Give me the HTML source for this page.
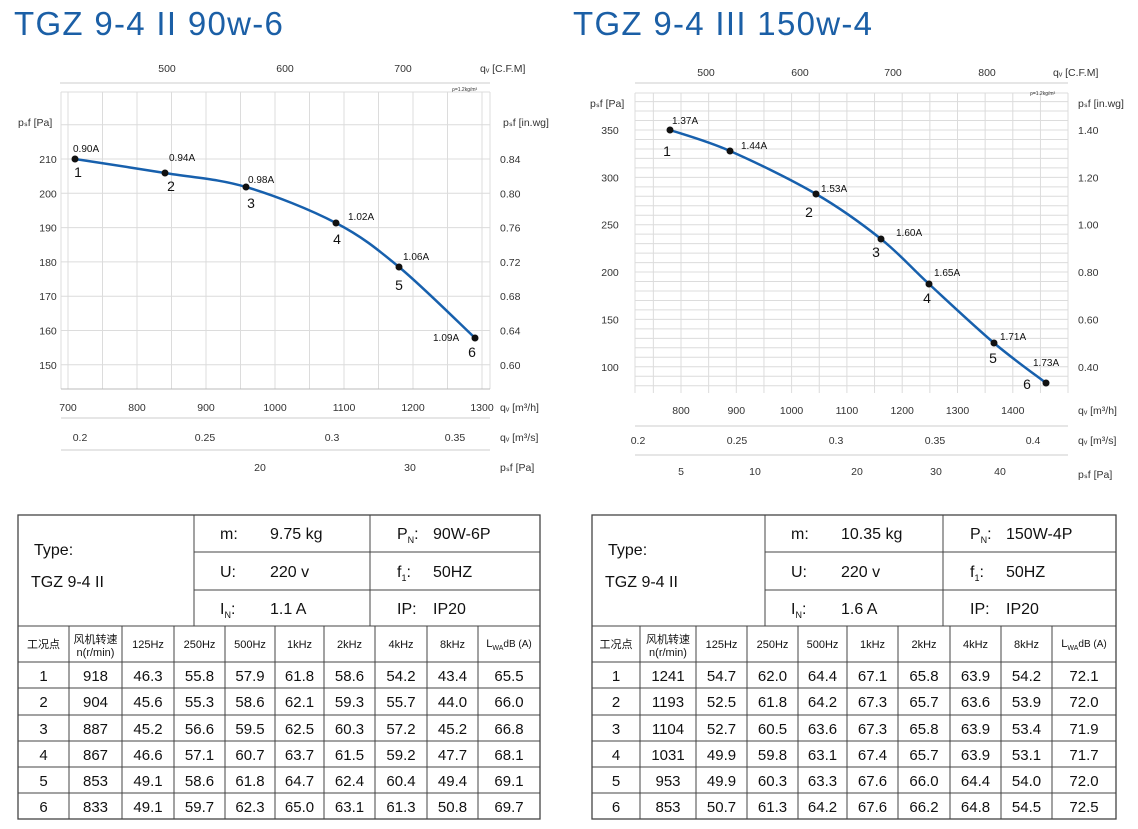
<!DOCTYPE html>
<html><head><meta charset="utf-8"><style>
body{margin:0;background:#fff;width:1138px;height:829px;overflow:hidden}
svg{display:block;font-family:"Liberation Sans","Noto Sans CJK SC",sans-serif}
.t{font-size:10.5px;fill:#333}
.n{font-size:14px;fill:#111}
.a{font-size:10px;fill:#111}
.tb{font-size:16px;fill:#111}
.tc{font-size:15px;fill:#111}
.ts{font-size:11px;fill:#111}
</style></head><body>
<svg id="s" width="1138" height="829" xmlns="http://www.w3.org/2000/svg">
<text x="14" y="35" font-size="33" letter-spacing="1.3" fill="#1b5fa6">TGZ 9-4 II 90w-6</text>
<text x="573" y="35" font-size="33" letter-spacing="1.3" fill="#1b5fa6">TGZ 9-4 III 150w-4</text>
<g id="L"></g><g id="R"></g><g id="T1"></g><g id="T2"></g>
</svg>
<script>
const NS="http://www.w3.org/2000/svg";
function el(p,t,a,txt){const e=document.createElementNS(NS,t);for(const k in a)e.setAttribute(k,a[k]);if(txt!=null)e.textContent=txt;p.appendChild(e);return e;}
function line(p,x1,y1,x2,y2,c,w){return el(p,'line',{x1,y1,x2,y2,stroke:c||'#dcdcdc','stroke-width':w||1});}
function txt(p,x,y,s,cls,anchor){return el(p,'text',{x,y,class:cls||'t','text-anchor':anchor||'middle'},s);}
function curve(p,pts){let d='M'+pts[0][0]+','+pts[0][1];for(let i=0;i<pts.length-1;i++){const p0=pts[i-1]||pts[i],p1=pts[i],p2=pts[i+1],p3=pts[i+2]||p2;
d+=' C'+(p1[0]+(p2[0]-p0[0])/6)+','+(p1[1]+(p2[1]-p0[1])/6)+' '+(p2[0]-(p3[0]-p1[0])/6)+','+(p2[1]-(p3[1]-p1[1])/6)+' '+p2[0]+','+p2[1];}
el(p,'path',{d,fill:'none',stroke:'#1760ad','stroke-width':2.5});
pts.forEach(q=>el(p,'circle',{cx:q[0],cy:q[1],r:3.5,fill:'#111'}));}
// LEFT chart
(function(){const g=document.getElementById('L');
const X=v=>68+0.69*(v-700), Y=v=>159+(210-v)*3.43;
for(let v=650;v<=1300;v+=50){const x=X(v);if(x>61&&x<490)line(g,x,92,x,389);}
for(let v=220;v>=150;v-=10)line(g,61,Y(v),490,Y(v));
line(g,61,92,490,92);line(g,61,92,61,389);line(g,490,92,490,389);
line(g,61,389,490,389,'#bbb');line(g,61,418,490,418,'#ccc');line(g,61,450,490,450,'#ccc');line(g,60,83,490,83,'#ccc');
for(let v=700;v<=1300;v+=100)txt(g,X(v),411,v);
[[167,'500'],[285,'600'],[403,'700']].forEach(a=>txt(g,a[0],72,a[1]));
txt(g,480,72,'qᵥ [C.F.M]','t','start');
el(g,'text',{x:452,y:91,'font-size':5,fill:'#333'},'ρ=1.2kg/m³');
[[80,'0.2'],[205,'0.25'],[332,'0.3'],[455,'0.35']].forEach(a=>txt(g,a[0],441,a[1]));
[[260,'20'],[410,'30']].forEach(a=>txt(g,a[0],471,a[1]));
txt(g,500,411,'qᵥ [m³/h]','t','start');txt(g,500,441,'qᵥ [m³/s]','t','start');txt(g,500,471,'pₛf [Pa]','t','start');
txt(g,18,126,'pₛf [Pa]','t','start');txt(g,503,126,'pₛf [in.wg]','t','start');
for(let v=210;v>=150;v-=10)txt(g,48,Y(v)+4,v);
['0.84','0.80','0.76','0.72','0.68','0.64','0.60'].forEach((s,i)=>txt(g,500,159+i*34.3+4,s,'t','start'));
const P=[[75,159],[165,173],[246,187],[336,223],[399,267],[475,338]];curve(g,P);
const A=['0.90A','0.94A','0.98A','1.02A','1.06A','1.09A'];
const la=[[73,152],[169,161],[248,183],[348,220],[403,260],[433,341]];
const ln=[[78,177],[171,191],[251,208],[337,244],[399,290],[472,357]];
P.forEach((p,i)=>{txt(g,la[i][0],la[i][1],A[i],'a','start');txt(g,ln[i][0],ln[i][1],i+1,'n');});
})();
// RIGHT chart
(function(){const g=document.getElementById('R');
const X=v=>681+0.553*(v-800), Y=v=>130+(350-v)*0.947;
for(let v=750;v<=1500;v+=50){const x=X(v);if(x>635&&x<1068)line(g,x,93,x,393);}
for(let v=380;v>=80;v-=10)line(g,635,Y(v),1068,Y(v));
line(g,635,93,1068,93);line(g,635,93,635,393);line(g,1068,93,1068,393);
line(g,635,426,1068,426,'#ccc');line(g,635,455,1068,455,'#ccc');line(g,635,83,1068,83,'#ccc');
for(let v=800;v<=1400;v+=100)txt(g,X(v),414,v);
[[706,'500'],[800,'600'],[893,'700'],[987,'800']].forEach(a=>txt(g,a[0],76,a[1]));
txt(g,1053,76,'qᵥ [C.F.M]','t','start');
el(g,'text',{x:1030,y:95,'font-size':5,fill:'#333'},'ρ=1.2kg/m³');
[[638,'0.2'],[737,'0.25'],[836,'0.3'],[935,'0.35'],[1033,'0.4']].forEach(a=>txt(g,a[0],444,a[1]));
[[681,'5'],[755,'10'],[857,'20'],[936,'30'],[1000,'40']].forEach(a=>txt(g,a[0],475,a[1]));
txt(g,1078,414,'qᵥ [m³/h]','t','start');txt(g,1078,444,'qᵥ [m³/s]','t','start');txt(g,1078,478,'pₛf [Pa]','t','start');
txt(g,590,107,'pₛf [Pa]','t','start');txt(g,1078,107,'pₛf [in.wg]','t','start');
for(let v=350;v>=100;v-=50)txt(g,610,Y(v)+4,v);
['1.40','1.20','1.00','0.80','0.60','0.40'].forEach((s,i)=>txt(g,1078,130+i*47.35+4,s,'t','start'));
const P=[[670,130],[730,151],[816,194],[881,239],[929,284],[994,343],[1046,383]];curve(g,P);
const A=['1.37A','1.44A','1.53A','1.60A','1.65A','1.71A','1.73A'];
const la=[[672,124],[741,149],[821,192],[896,236],[934,276],[1000,340],[1033,366]];
P.forEach((p,i)=>txt(g,la[i][0],la[i][1],A[i],'a','start'));
[[667,156],[809,217],[876,257],[927,303],[993,363],[1027,389]].forEach((q,i)=>txt(g,q[0],q[1],i+1,'n'));
})();
// tables
function table(id,cols,d1,d2,top,rowsData){const g=document.getElementById(id);
const L=cols[0],R=cols[cols.length-1];const ys=[515,552,590,626,662,688,715,741,767,793,819];
const k='#444';
el(g,'rect',{x:L,y:515,width:R-L,height:304,fill:'none',stroke:k,'stroke-width':1.3});
line(g,d1,515,d1,626,k,1);line(g,d2,515,d2,626,k,1);
line(g,d1,552,R,552,k,1);line(g,d1,590,R,590,k,1);
for(let i=3;i<ys.length-1;i++)line(g,L,ys[i],R,ys[i],k,1);
for(let i=1;i<cols.length-1;i++)line(g,cols[i],626,cols[i],819,k,1);
txt(g,L+16,555,'Type:','tb','start');txt(g,L+13,587,top.type,'tb','start');
[['m:',top.m],['U:',top.u],['I',top.i]].forEach((r,j)=>{const y=[539,577,614][j];
const t=el(g,'text',{x:d1+26,y,class:'tb'},r[0]);if(j==2){el(t,'tspan',{'font-size':'9','dy':'4'},'N');el(t,'tspan',{'dy':'-4'},':');}
txt(g,d1+76,y,r[1],'tb','start');});
[['P','N',':',top.p],['f','1',':','50HZ'],['IP:','','','IP20']].forEach((r,j)=>{const y=[539,577,614][j];
const t=el(g,'text',{x:d2+27,y,class:'tb'},r[0]);if(r[1]){el(t,'tspan',{'font-size':'9','dy':'4'},r[1]);el(t,'tspan',{'dy':'-4'},r[2]);}
txt(g,d2+63,y,r[3],'tb','start');});
const H=['工况点','','125Hz','250Hz','500Hz','1kHz','2kHz','4kHz','8kHz',''];
for(let i=0;i<10;i++){const cx=(cols[i]+cols[i+1])/2;
if(i==1){txt(g,cx,643,'风机转速','ts');txt(g,cx,656,'n(r/min)','ts');}
else if(i==9){const t=el(g,'text',{x:cx,y:647,class:'ts','text-anchor':'middle'},'L');el(t,'tspan',{'font-size':'7','dy':'3'},'WA');el(t,'tspan',{'dy':'-3','font-size':'10'},'dB (A)');}
else txt(g,cx,648,H[i],'ts');}
rowsData.forEach((r,j)=>{const y=ys[4+j]+19;r.forEach((v,i)=>txt(g,(cols[i]+cols[i+1])/2,y,v,'tc'));});}
table('T1',[18,69,122,174,225,275,324,375,427,478,540],194,370,{type:'TGZ 9-4 II',m:'9.75  kg',u:'220  v',i:'1.1  A',p:'90W-6P'},[
['1','918','46.3','55.8','57.9','61.8','58.6','54.2','43.4','65.5'],
['2','904','45.6','55.3','58.6','62.1','59.3','55.7','44.0','66.0'],
['3','887','45.2','56.6','59.5','62.5','60.3','57.2','45.2','66.8'],
['4','867','46.6','57.1','60.7','63.7','61.5','59.2','47.7','68.1'],
['5','853','49.1','58.6','61.8','64.7','62.4','60.4','49.4','69.1'],
['6','833','49.1','59.7','62.3','65.0','63.1','61.3','50.8','69.7']]);
table('T2',[592,640,696,747,798,847,898,950,1001,1052,1116],765,943,{type:'TGZ 9-4 II',m:'10.35  kg',u:'220  v',i:'1.6  A',p:'150W-4P'},[
['1','1241','54.7','62.0','64.4','67.1','65.8','63.9','54.2','72.1'],
['2','1193','52.5','61.8','64.2','67.3','65.7','63.6','53.9','72.0'],
['3','1104','52.7','60.5','63.6','67.3','65.8','63.9','53.4','71.9'],
['4','1031','49.9','59.8','63.1','67.4','65.7','63.9','53.1','71.7'],
['5','953','49.9','60.3','63.3','67.6','66.0','64.4','54.0','72.0'],
['6','853','50.7','61.3','64.2','67.6','66.2','64.8','54.5','72.5']]);
</script>
</body></html>
